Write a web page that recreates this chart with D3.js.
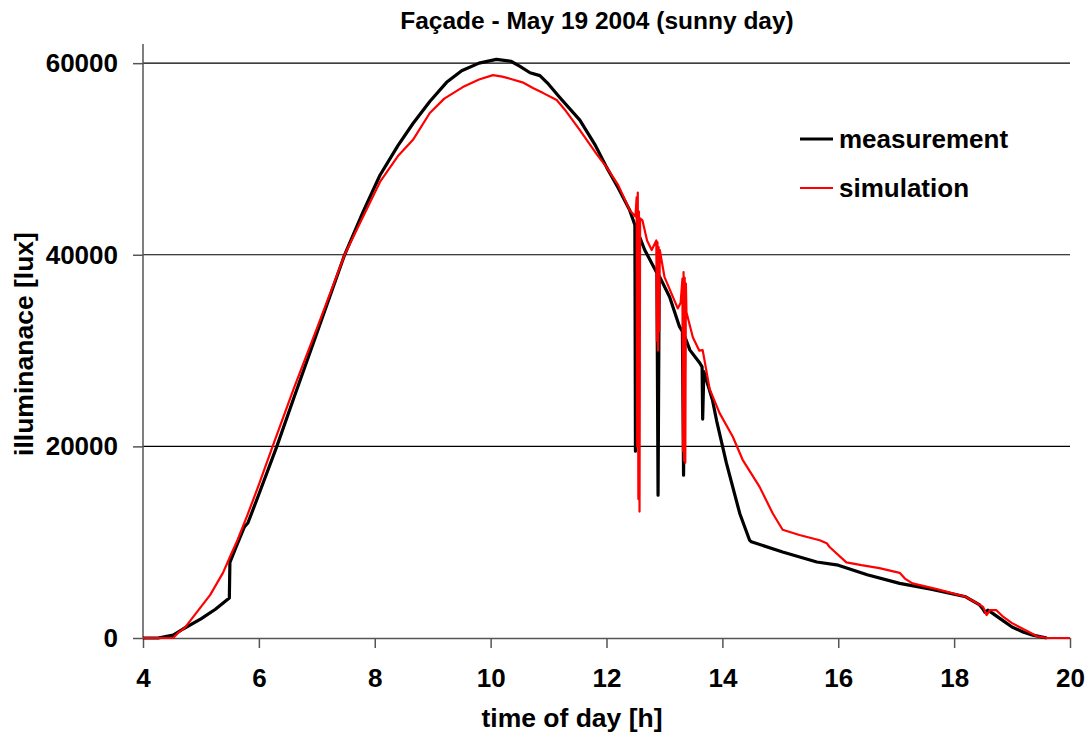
<!DOCTYPE html>
<html>
<head>
<meta charset="utf-8">
<script src="https://cdn.jsdelivr.net/npm/d3@7"></script>
<style>
	body { margin: 0; background: #fff; }
	text { font-family: "Liberation Sans", Arial, sans-serif; font-weight: bold; fill: #000; }
</style>
</head>
<body>
<svg id="chart" width="1092" height="740"></svg>
<script>
// measurement (black)
var measHour = [4.0, 4.26, 4.52, 4.69, 5.0, 5.25, 5.49, 5.5, 5.6, 5.75, 5.81, 6.0, 6.31, 6.6, 7.0, 7.48, 7.8, 8.09, 8.4, 8.66, 8.95, 9.24, 9.5, 9.8, 10.1, 10.35, 10.5, 10.68, 10.85, 11.0, 11.19, 11.54, 11.8, 12.0, 12.2, 12.4, 12.49, 12.5, 12.51, 12.66, 12.87, 12.89, 12.91, 13.09, 13.26, 13.31, 13.33, 13.35, 13.44, 13.61, 13.65, 13.66, 13.68, 13.83, 13.9, 14.07, 14.3, 14.47, 14.5, 15.04, 15.63, 16.0, 16.5, 17.06, 17.6, 18.2, 18.44, 18.5, 18.53, 18.58, 18.66, 18.8, 19.0, 19.2, 19.36, 19.6];
var measLux = [0, 0, 300, 940, 2000, 3000, 4170, 7900, 9400, 11600, 12000, 15000, 20000, 25000, 31800, 40000, 44500, 48300, 51400, 53700, 56000, 58000, 59200, 60000, 60400, 60200, 59700, 59000, 58700, 57800, 56450, 54050, 51500, 49150, 47000, 44660, 43100, 19500, 42800, 40500, 38100, 14900, 37800, 35600, 32500, 32000, 17000, 31500, 30050, 28700, 28300, 22850, 27800, 24800, 22700, 18250, 13000, 10200, 10050, 8970, 7930, 7600, 6600, 5700, 5100, 4300, 3450, 3000, 2700, 2900, 2600, 2000, 1150, 600, 300, 0];

// simulation (red)
var simHour = [4.0, 4.52, 4.6, 4.72, 4.93, 5.16, 5.38, 5.5, 5.63, 5.8, 6.0, 6.25, 6.6, 7.0, 7.48, 7.8, 8.09, 8.4, 8.66, 8.95, 9.2, 9.52, 9.8, 10.04, 10.2, 10.38, 10.55, 10.73, 10.9, 11.14, 11.3, 11.54, 11.83, 12.0, 12.2, 12.4, 12.5, 12.52, 12.53, 12.54, 12.55, 12.56, 12.57, 12.58, 12.62, 12.7, 12.78, 12.86, 12.87, 12.88, 12.89, 12.9, 12.91, 12.92, 13.0, 13.23, 13.28, 13.31, 13.32, 13.33, 13.34, 13.35, 13.36, 13.37, 13.38, 13.49, 13.6, 13.66, 13.78, 13.95, 14.18, 14.35, 14.64, 14.87, 15.04, 15.33, 15.68, 15.8, 15.85, 16.14, 16.4, 16.71, 17.06, 17.15, 17.28, 17.7, 18.2, 18.5, 18.56, 18.62, 18.73, 18.85, 19.0, 19.3, 19.42, 19.6, 20.0];
var simLux = [0, 0, 500, 1050, 2700, 4500, 6800, 8450, 10200, 12800, 16000, 20200, 26000, 32300, 40000, 44000, 47600, 50300, 52000, 54800, 56300, 57500, 58300, 58750, 58600, 58300, 58000, 57400, 56900, 56150, 55000, 53000, 50500, 49150, 47300, 44660, 44000, 46000, 20000, 46500, 14500, 44500, 13200, 43800, 43600, 41500, 40500, 41500, 31000, 41300, 30000, 40800, 32000, 40500, 37700, 34400, 35000, 37500, 19500, 38200, 18500, 37600, 18300, 37000, 34000, 31400, 30000, 30050, 26000, 23500, 21000, 18600, 15800, 13000, 11300, 10750, 10200, 9900, 9500, 7900, 7600, 7300, 6800, 6200, 5700, 5100, 4300, 3250, 2400, 2900, 2900, 2200, 1550, 600, 200, 0, 0];

var xTicks = [4, 6, 8, 10, 12, 14, 16, 18, 20];
var yTicks = [0, 20000, 40000, 60000];
var gridValues = [20000, 40000, 60000];

var svg = d3.select("#chart");

var x = d3.scaleLinear().domain([4, 20]).range([143, 1070]);
var y = d3.scaleLinear().domain([0, 62000]).range([638, 44]);

// gridlines
svg.append("g")
	.selectAll("line")
	.data(gridValues)
	.join("line")
	.attr("x1", x(4))
	.attr("x2", x(20))
	.attr("y1", function (d) { return y(d); })
	.attr("y2", function (d) { return y(d); })
	.attr("stroke", "#000")
	.attr("stroke-width", 1.2);

// y axis
var yAxis = svg.append("g")
	.attr("transform", "translate(" + x(4) + ",0)")
	.call(d3.axisLeft(y).tickValues(yTicks).tickSize(10).tickPadding(15).tickFormat(d3.format("d")));
yAxis.select(".domain").remove();
yAxis.append("line")
	.attr("x1", 0).attr("x2", 0)
	.attr("y1", y(0)).attr("y2", y(62000))
	.attr("stroke", "#555").attr("stroke-width", 1.5);
yAxis.selectAll(".tick line").attr("stroke", "#555").attr("stroke-width", 1.5);
yAxis.selectAll(".tick text").style("font-size", "26px").attr("fill", "#000");

// x axis
var xAxis = svg.append("g")
	.attr("transform", "translate(0," + y(0) + ")")
	.call(d3.axisBottom(x).tickValues(xTicks).tickSize(10).tickPadding(21).tickSizeOuter(0));
xAxis.select(".domain").attr("stroke", "#555").attr("stroke-width", 1.5);
xAxis.selectAll(".tick line").attr("stroke", "#555").attr("stroke-width", 1.5);
xAxis.selectAll(".tick text").style("font-size", "26px").attr("fill", "#000");

// series
var meas = measHour.map(function (h, i) { return [h, measLux[i]]; });
var sim = simHour.map(function (h, i) { return [h, simLux[i]]; });

var line = d3.line()
	.x(function (d) { return x(d[0]); })
	.y(function (d) { return y(d[1]); });

svg.append("path")
	.datum(meas)
	.attr("d", line)
	.attr("fill", "none")
	.attr("stroke", "#000")
	.attr("stroke-width", 3.2)
	.attr("stroke-linejoin", "round");

svg.append("path")
	.datum(sim)
	.attr("d", line)
	.attr("fill", "none")
	.attr("stroke", "#ff0000")
	.attr("stroke-width", 2.2)
	.attr("stroke-linejoin", "round");

// title and axis labels
svg.append("text")
	.attr("x", 597)
	.attr("y", 29)
	.attr("text-anchor", "middle")
	.style("font-size", "24.5px")
	.text("Façade - May 19 2004 (sunny day)");

svg.append("text")
	.attr("x", 572)
	.attr("y", 727)
	.attr("text-anchor", "middle")
	.style("font-size", "26.5px")
	.text("time of day [h]");

svg.append("text")
	.attr("transform", "translate(33,344) rotate(-90)")
	.attr("text-anchor", "middle")
	.style("font-size", "26.5px")
	.text("illuminanace [lux]");

// legend
var legend = [
	{name: "measurement", color: "#000", width: 3.2, y: 139},
	{name: "simulation", color: "#ff0000", width: 2.2, y: 188}
];
var lg = svg.append("g");
lg.selectAll("line")
	.data(legend)
	.join("line")
	.attr("x1", 800).attr("x2", 833)
	.attr("y1", function (d) { return d.y; })
	.attr("y2", function (d) { return d.y; })
	.attr("stroke", function (d) { return d.color; })
	.attr("stroke-width", function (d) { return d.width; });
lg.selectAll("text")
	.data(legend)
	.join("text")
	.attr("x", 839)
	.attr("y", function (d) { return d.y + 9; })
	.style("font-size", "26px")
	.text(function (d) { return d.name; });
</script>
</body>
</html>
